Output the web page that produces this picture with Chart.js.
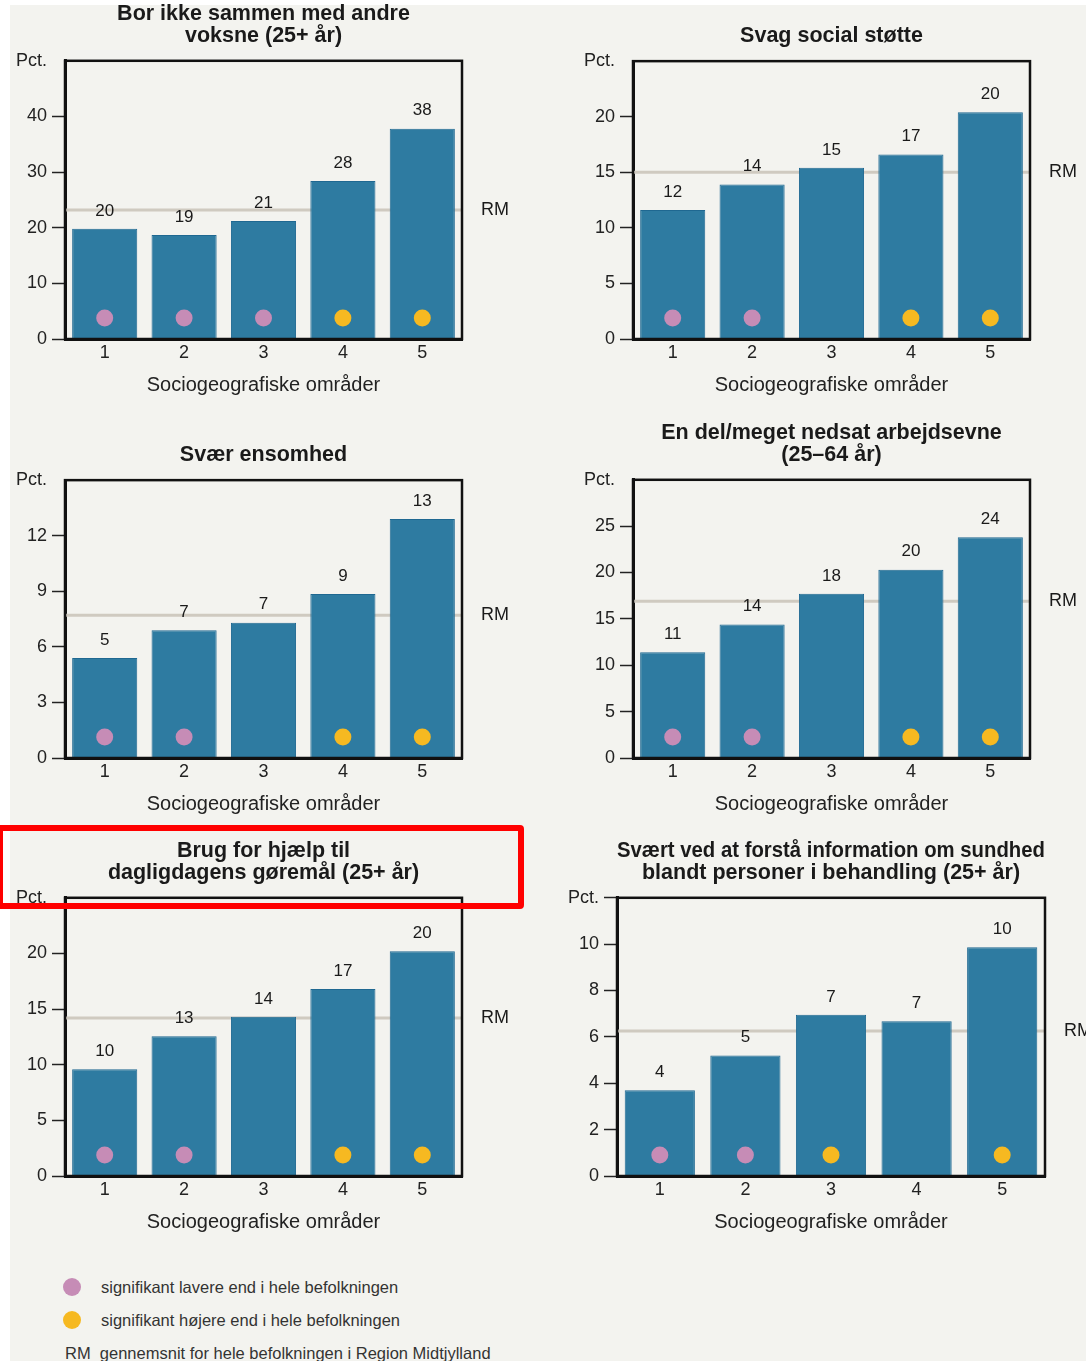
<!DOCTYPE html>
<html lang="da">
<head>
  <meta charset="UTF-8" />
  <title>Sociogeografiske områder</title>
  <style>
    body {
      margin: 0;
      background: #fff;
      font-family: 'Liberation Sans', Arial, sans-serif;
      overflow: hidden;
    }
    .page {
      position: relative;
      width: 1086px;
      height: 1361px;
    }
    .panel {
      position: absolute;
      left: 10px; top: 5px; right: 0; bottom: 0;
      background: #f3f3ef;
    }
    canvas {
      position: absolute;
    }
    .highlight {
      position: absolute;
      left: -3px; top: 825px;
      width: 515px; height: 72px;
      border: 6px solid #ff0000;
      border-radius: 4px;
      z-index: 5;
    }
    .legend-text {
      position: absolute;
      font-size: 16.5px;
      line-height: 20px;
      color: #333;
      white-space: nowrap;
    }
    .dot {
      position: absolute;
      width: 18px; height: 18px;
      border-radius: 50%;
    }
  </style>
</head>
<body>
<div class="page">
  <div class="panel"></div>

  <canvas id="c1" width="527" height="409" style="left:0;top:0"></canvas>
  <canvas id="c2" width="509" height="409" style="left:577px;top:0"></canvas>
  <canvas id="c3" width="527" height="409" style="left:0;top:419px"></canvas>
  <canvas id="c4" width="509" height="409" style="left:577px;top:419px"></canvas>
  <canvas id="c5" width="527" height="409" style="left:0;top:837px"></canvas>
  <canvas id="c6" width="526" height="409" style="left:560px;top:837px"></canvas>

  <div class="highlight"></div>

  <div class="dot" style="left:63px;top:1278px;background:#c68cb6"></div>
  <div class="legend-text" style="left:101px;top:1277px">signifikant lavere end i hele befolkningen</div>
  <div class="dot" style="left:63px;top:1311px;background:#f6b921"></div>
  <div class="legend-text" style="left:101px;top:1310px">signifikant højere end i hele befolkningen</div>
  <div class="legend-text" style="left:65px;top:1343px">RM&nbsp;&nbsp;gennemsnit for hele befolkningen i Region Midtjylland</div>
</div>

<script src="https://cdn.jsdelivr.net/npm/chart.js"></script>
<script>
  // categories (sociogeografiske områder)
  const areas = ['1', '2', '3', '4', '5'];

  // percentages per area, RM average, significance ('low' / 'high' / null)
  const livingAlone = [19.8, 18.7, 21.2, 28.4, 37.8];
  const livingAloneRM = 23.2;
  const livingAloneSig = ['low', 'low', 'low', 'high', 'high'];

  const weakSupport = [11.6, 13.9, 15.4, 16.6, 20.4];
  const weakSupportRM = 15.0;
  const weakSupportSig = ['low', 'low', null, 'high', 'high'];

  const loneliness = [5.4, 6.9, 7.3, 8.85, 12.9];
  const lonelinessRM = 7.7;
  const lonelinessSig = ['low', 'low', null, 'high', 'high'];

  const workAbility = [11.4, 14.4, 17.7, 20.3, 23.8];
  const workAbilityRM = 16.9;
  const workAbilitySig = ['low', 'low', null, 'high', 'high'];

  const dailyHelp = [9.6, 12.55, 14.3, 16.8, 20.2];
  const dailyHelpRM = 14.2;
  const dailyHelpSig = ['low', 'low', null, 'high', 'high'];

  const healthInfo = [3.7, 5.2, 6.95, 6.67, 9.87];
  const healthInfoRM = 6.25;
  const healthInfoSig = ['low', 'low', 'high', null, 'high'];

  // y axis ranges (top value is labelled "Pct.")
  const yMax = [50, 25, 15, 30, 25, 12];
  const yStep = [10, 5, 3, 5, 5, 2];

  const BAR = '#2e7ba1';
  const BAR_EDGE = '#1f6891';
  const SIG_COLORS = { low: '#c68cb6', high: '#f6b921' };
  const FONT = "'Liberation Sans', Arial, sans-serif";

  Chart.defaults.font.family = FONT;

  // RM line, value labels, significance dots and the plot box
  const decor = {
    id: 'decor',
    beforeDatasetsDraw(chart, args, opts) {
      const { ctx, chartArea: a, scales: { y } } = chart;
      const yy = y.getPixelForValue(opts.rm);
      ctx.save();
      ctx.strokeStyle = '#cfcac0';
      ctx.lineWidth = 3;
      ctx.beginPath();
      ctx.moveTo(a.left, yy);
      ctx.lineTo(a.right, yy);
      ctx.stroke();
      ctx.fillStyle = '#1a1a1a';
      ctx.font = '18px ' + FONT;
      ctx.textAlign = 'left';
      ctx.textBaseline = 'middle';
      ctx.fillText('RM', a.right + 19, yy);
      ctx.restore();
    },
    afterDatasetsDraw(chart, args, opts) {
      const { ctx, chartArea: a, scales: { x, y } } = chart;
      const bars = chart.getDatasetMeta(0).data;
      const values = chart.data.datasets[0].data;
      ctx.save();
      ctx.font = '17px ' + FONT;
      ctx.textAlign = 'center';
      ctx.textBaseline = 'middle';
      bars.forEach((bar, i) => {
        ctx.fillStyle = '#1a1a1a';
        ctx.fillText(String(Math.round(values[i])), bar.x, bar.y - 18);
        const s = opts.sig[i];
        if (s) {
          ctx.fillStyle = SIG_COLORS[s];
          ctx.beginPath();
          ctx.arc(x.getPixelForValue(i), y.getPixelForValue(0) - 21, 8.5, 0, Math.PI * 2);
          ctx.fill();
        }
      });
      ctx.strokeStyle = '#111';
      ctx.lineWidth = 2.5;
      ctx.strokeRect(a.left, a.top, a.right - a.left, a.bottom - a.top);
      ctx.restore();
    }
  };

  function makeChart(id, title, values, rm, sig, max, step, yWidth, rightPad, topTick) {
    const lines = Array.isArray(title) ? title.length : 1;
    new Chart(document.getElementById(id), {
      type: 'bar',
      data: {
        labels: areas,
        datasets: [{
          data: values,
          backgroundColor: BAR,
          borderColor: BAR_EDGE,
          borderWidth: 1,
          barPercentage: 0.82,
          categoryPercentage: 1
        }]
      },
      options: {
        responsive: false,
        animation: false,
        layout: { padding: { left: 0, right: rightPad, top: 0, bottom: 0 } },
        plugins: {
          legend: { display: false },
          tooltip: { enabled: false },
          title: {
            display: true,
            text: title,
            fullSize: false,
            color: '#1a1a1a',
            font: { size: 21.5, weight: 'bold', lineHeight: 1.03 },
            padding: { top: lines === 1 ? 25.5 : 3, bottom: 13.5 }
          },
          decor: { rm: rm, sig: sig }
        },
        scales: {
          x: {
            grid: { display: false, drawTicks: false },
            border: { display: true, color: '#111', width: 3 },
            ticks: { color: '#222', font: { size: 18 }, padding: 3 },
            title: {
              display: true,
              text: 'Sociogeografiske områder',
              color: '#222',
              font: { size: 20 },
              padding: { top: 0, bottom: 12 }
            },
            afterFit(scale) { scale.height = 70; }
          },
          y: {
            min: 0,
            max: max,
            grid: {
              drawOnChartArea: false,
              drawTicks: true,
              tickLength: 13,
              tickWidth: 1.5,
              tickColor: (c) => (c.tick && c.tick.value === max && !topTick) ? 'rgba(0,0,0,0)' : '#222'
            },
            border: { display: true, color: '#111', width: 3 },
            ticks: {
              stepSize: step,
              color: '#222',
              font: { size: 18 },
              padding: 5,
              callback: (v) => v === max ? 'Pct.' : v
            },
            afterFit(scale) { scale.width = yWidth; }
          }
        }
      },
      plugins: [decor]
    });
  }

  makeChart('c1', ['Bor ikke sammen med andre', 'voksne (25+ år)'],
    livingAlone, livingAloneRM, livingAloneSig, yMax[0], yStep[0], 65, 65, false);
  makeChart('c2', 'Svag social støtte',
    weakSupport, weakSupportRM, weakSupportSig, yMax[1], yStep[1], 56, 56, false);
  makeChart('c3', 'Svær ensomhed',
    loneliness, lonelinessRM, lonelinessSig, yMax[2], yStep[2], 65, 65, false);
  makeChart('c4', ['En del/meget nedsat arbejdsevne', '(25–64 år)'],
    workAbility, workAbilityRM, workAbilitySig, yMax[3], yStep[3], 56, 56, false);
  makeChart('c5', ['Brug for hjælp til', 'dagligdagens gøremål (25+ år)'],
    dailyHelp, dailyHelpRM, dailyHelpSig, yMax[4], yStep[4], 65, 65, false);
  makeChart('c6', ['Svært ved at forstå information om sundhed', 'blandt personer i behandling (25+ år)'],
    healthInfo, healthInfoRM, healthInfoSig, yMax[5], yStep[5], 57, 41, true);
</script>
</body>
</html>
